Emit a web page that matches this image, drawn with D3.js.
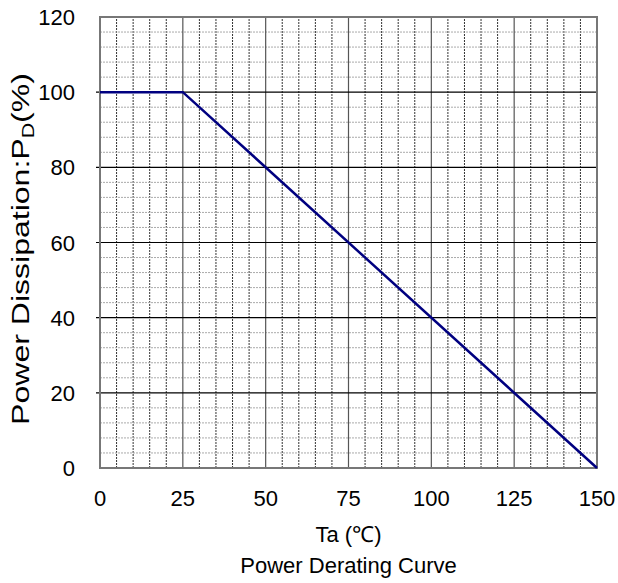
<!DOCTYPE html>
<html>
<head>
<meta charset="utf-8">
<script src="https://cdn.jsdelivr.net/npm/d3@7"></script>
<style>
  body { margin: 0; background: #fff; }
  text { font-family: "Liberation Sans", Arial, sans-serif; fill: #000; }
</style>
</head>
<body>
<div id="chart"></div>
<script>
// data
const tempC = [0, 25, 150];
const powerPct = [100, 100, 0];
const xTicks = [0, 25, 50, 75, 100, 125, 150];
const yTicks = [0, 20, 40, 60, 80, 100, 120];

const width = 618, height = 583;
const margin = { left: 100, top: 17, right: 21, bottom: 115 };

const svg = d3.select('#chart').append('svg')
    .attr('width', width)
    .attr('height', height);

const x = d3.scaleLinear().domain([0, 150]).range([margin.left, width - margin.right]);
const y = d3.scaleLinear().domain([0, 120]).range([height - margin.bottom, margin.top]);

// minor grid
const minorX = d3.range(0, 151, 5).filter(d => d % 25 !== 0);
const minorY = d3.range(0, 121, 4).filter(d => d % 20 !== 0);

svg.append('g').selectAll('line').data(minorX).enter().append('line')
    .attr('x1', d => x(d)).attr('x2', d => x(d))
    .attr('y1', y(0)).attr('y2', y(120))
    .attr('stroke', '#333').attr('stroke-width', 1)
    .attr('stroke-dasharray', '2,1');

svg.append('g').selectAll('line').data(minorY).enter().append('line')
    .attr('x1', x(0)).attr('x2', x(150))
    .attr('y1', d => y(d)).attr('y2', d => y(d))
    .attr('stroke', '#aaa').attr('stroke-width', 1)
    .attr('stroke-dasharray', '2,1');

// major grid
svg.append('g').selectAll('line').data(xTicks.slice(1, -1)).enter().append('line')
    .attr('x1', d => x(d)).attr('x2', d => x(d))
    .attr('y1', y(0)).attr('y2', y(120))
    .attr('stroke', '#555').attr('stroke-width', 1.2);

svg.append('g').selectAll('line').data(yTicks.slice(1, -1)).enter().append('line')
    .attr('x1', x(0) - 4).attr('x2', x(150))
    .attr('y1', d => y(d)).attr('y2', d => y(d))
    .attr('stroke', '#000').attr('stroke-width', 1.2);

// frame
svg.append('rect')
    .attr('x', x(0)).attr('y', y(120))
    .attr('width', x(150) - x(0)).attr('height', y(0) - y(120))
    .attr('fill', 'none').attr('stroke', '#777').attr('stroke-width', 2);

// curve
const line = d3.line().x((d, i) => x(tempC[i])).y(d => y(d));
svg.append('path').datum(powerPct)
    .attr('d', line)
    .attr('fill', 'none')
    .attr('stroke', '#000080')
    .attr('stroke-width', 2.5);

// tick labels
svg.append('g').selectAll('text').data(yTicks).enter().append('text')
    .attr('x', x(0) - 25).attr('y', d => y(d) + 8)
    .attr('text-anchor', 'end')
    .attr('font-size', 22)
    .text(d => d);

svg.append('g').selectAll('text').data(xTicks).enter().append('text')
    .attr('x', d => x(d)).attr('y', 506)
    .attr('text-anchor', 'middle')
    .attr('font-size', 22)
    .text(d => d);

// axis titles
svg.append('text')
    .attr('x', (x(0) + x(150)) / 2).attr('y', 542)
    .attr('text-anchor', 'middle')
    .attr('font-size', 22)
    .text('Ta (℃)');

svg.append('text')
    .attr('x', (x(0) + x(150)) / 2).attr('y', 573)
    .attr('text-anchor', 'middle')
    .attr('font-size', 22)
    .text('Power Derating Curve');

// y title is drawn stretched along its baseline in the original
const yTitleG = svg.append('g');
const yTitle = yTitleG.append('text')
    .attr('text-anchor', 'middle')
    .attr('font-size', 24);
yTitle.append('tspan').text('Power Dissipation:P');
yTitle.append('tspan').attr('font-size', 16).attr('dy', 5).text('D');
yTitle.append('tspan').attr('dy', -5).text('(%)');
const titleLen = yTitle.node().getComputedTextLength() || 280;
const stretch = 352 / titleLen;
yTitleG.attr('transform', 'translate(29,249) rotate(-90) scale(' + stretch + ',1)');
</script>
</body>
</html>
